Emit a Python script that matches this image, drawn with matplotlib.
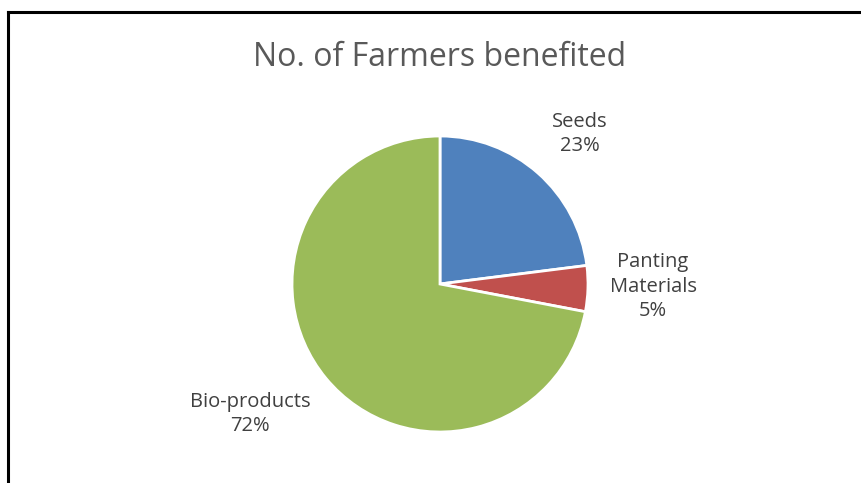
import matplotlib.pyplot as plt
from matplotlib.lines import Line2D

plt.rcParams['font.family'] = ['Open Sans', 'DejaVu Sans']

categories = ['Seeds', 'Panting\nMaterials', 'Bio-products']
shares = [23, 5, 72]
colors = ['#4F81BD', '#C0504D', '#9BBB59']

W, H = 861, 483
fig = plt.figure(figsize=(W / 100, H / 100), dpi=100)

# pie: centre ~ (440, 284) px, radius ~148 px
cx, cy, r = 440, 284, 148
ax = fig.add_axes([(cx - r) / W, (H - cy - r) / H, 2 * r / W, 2 * r / H])
ax.pie(shares, colors=colors, startangle=90, counterclock=False,
       wedgeprops={'edgecolor': 'white', 'linewidth': 2})
ax.set_xlim(-1, 1)
ax.set_ylim(-1, 1)
ax.set_aspect('equal')

fig.text(440 / W, 1 - 57 / H, 'No. of Farmers benefited', ha='center', va='center',
         fontsize=23, color='#595959')

label_pos = [(580, 134), (653, 287), (250, 414)]
for name, val, (x, y) in zip(categories, shares, label_pos):
    fig.text(x / W, 1 - y / H, f'{name}\n{val}%', ha='center', va='center',
             fontsize=14.5, color='#404040', linespacing=1.3)

# frame border (only top and left visible in the crop)
fig.add_artist(Line2D([8 / W, 8 / W], [0, 1 - 11.5 / H], color='black', lw=2.2))
fig.add_artist(Line2D([8 / W, 1], [1 - 11.5 / H, 1 - 11.5 / H], color='black', lw=2.2))

fig.savefig('out.png', dpi=100)
